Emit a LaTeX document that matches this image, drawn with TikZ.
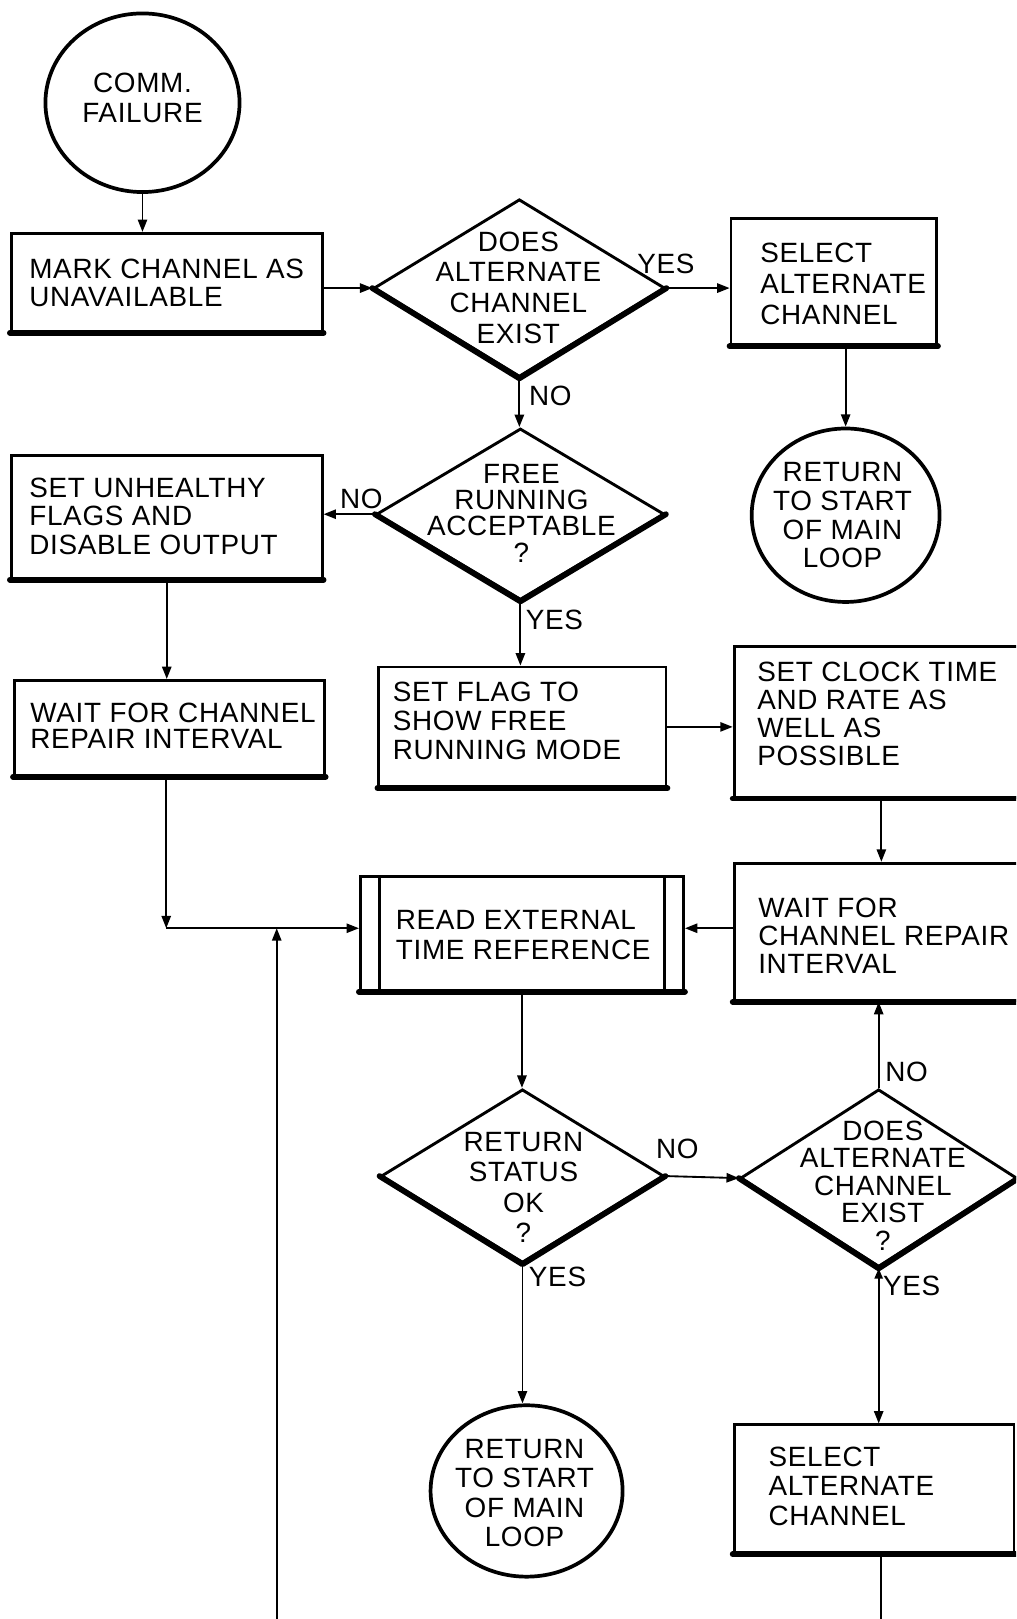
\documentclass[tikz,border=0pt]{standalone}
\usepackage{fontspec}
\setmainfont[LetterSpace=2.5]{Liberation Sans}
\usetikzlibrary{shapes.geometric,arrows.meta}

\begin{document}
\begin{tikzpicture}[x=0.5pt,y=-0.5pt,
  outline/.style={draw, line width=1.4pt, inner sep=0pt},
  box/.style={outline, rectangle},
  decision/.style={outline, diamond},
  terminal/.style={draw, line width=1.8pt, inner sep=0pt, ellipse},
  heavy/.style={line width=2.8pt, line cap=round, line join=round},
  lbl/.style={inner sep=0pt, font=\fontsize{13.5}{14}\selectfont},
  txt/.style={inner sep=0pt, align=left, anchor=west, font=\fontsize{13.5}{#1}\selectfont},
  ctxt/.style={inner sep=0pt, align=center, font=\fontsize{13.5}{#1}\selectfont},
  flow/.style={line width=0.9pt, -{Triangle[length=6pt,width=4.5pt]}},
  wire/.style={line width=0.9pt}
]
\useasboundingbox (0,0) rectangle (984,1568);
\fill[white] (0,0) rectangle (984,1568);
\clip (0,0) rectangle (984,1568);

% ---- terminals
\node[terminal, minimum width=94pt, minimum height=86.5pt] (comm) at (138,99.5) {};
\node[ctxt=14.3] (commT) at (138,95) {COMM.\\FAILURE};

\node[terminal, minimum width=91pt, minimum height=84pt] (ret1) at (819,499) {};
\node[ctxt=13.9] (ret1T) at (816,499) {RETURN\\TO START\\OF MAIN\\LOOP};

\node[terminal, minimum width=93pt, minimum height=83pt] (ret2) at (510,1444) {};
\node[ctxt=14.3] (ret2T) at (508,1446) {RETURN\\TO START\\OF MAIN\\LOOP};

% ---- process boxes
\node[box, minimum width=150.5pt, minimum height=47.5pt] (mark) at (161.5,273.5) {};
\node[txt=13.5] (markT) at (28,274) {MARK CHANNEL AS\\UNAVAILABLE};

\node[box, minimum width=99.5pt, minimum height=61pt] (selA) at (807.5,273) {};
\node[txt=14.8] (selAT) at (736,275) {SELECT\\ALTERNATE\\CHANNEL};

\node[box, minimum width=150.5pt, minimum height=59.5pt] (unh) at (161.5,500.5) {};
\node[txt=13.65] (unhT) at (28,500) {SET UNHEALTHY\\FLAGS AND\\DISABLE OUTPUT};

\node[box, minimum width=150pt, minimum height=46pt] (waitL) at (164,705) {};
\node[txt=12.6] (waitLT) at (29,703) {WAIT FOR CHANNEL\\REPAIR INTERVAL};

\node[box, minimum width=139pt, minimum height=58pt] (flag) at (506,704) {};
\node[txt=14] (flagT) at (380,698.5) {SET FLAG TO\\SHOW FREE\\RUNNING MODE};

\node[box, minimum width=150pt, minimum height=73pt] (clock) at (861,699) {};
\node[txt=13.6] (clockT) at (733,691.7) {SET CLOCK TIME\\AND RATE AS\\WELL AS\\POSSIBLE};

\node[box, minimum width=150pt, minimum height=66.5pt] (waitR) at (861,902.5) {};
\node[txt=13.65] (waitRT) at (734,906) {WAIT FOR\\CHANNEL REPAIR\\INTERVAL};

\node[box, minimum width=156.5pt, minimum height=55pt] (read) at (505.5,904) {};
\draw[line width=1.2pt] ([xshift=10pt]read.north west) -- ([xshift=10pt]read.south west);
\draw[line width=1.2pt] ([xshift=-10pt]read.north east) -- ([xshift=-10pt]read.south east);
\node[txt=14.5] (readT) at (383,905.5) {READ EXTERNAL\\TIME REFERENCE};

\node[box, minimum width=135.5pt, minimum height=62pt] (selB) at (846.5,1442) {};
\node[txt=14.25] (selBT) at (744,1439.5) {SELECT\\ALTERNATE\\CHANNEL};

% ---- decisions
\node[decision, minimum width=141pt, minimum height=86pt] (d1) at (503,279) {};
\node[ctxt=14.9] (d1T) at (502,278.5) {DOES\\ALTERNATE\\CHANNEL\\EXIST};

\node[decision, minimum width=139.5pt, minimum height=83pt] (d2) at (504,498) {};
\node[ctxt=12.75] (d2T) at (505,497) {FREE\\RUNNING\\ACCEPTABLE\\?};

\node[decision, minimum width=137pt, minimum height=84pt] (d3) at (506,1139) {};
\node[ctxt=14.8] (d3T) at (507,1150) {RETURN\\STATUS\\OK\\?};

\node[decision, minimum width=134pt, minimum height=86pt] (d4) at (851,1141) {};
\node[ctxt=13.3] (d4T) at (855,1148) {DOES\\ALTERNATE\\CHANNEL\\EXIST\\?};

% heavy lower edges
\foreach \b in {mark,selA,unh,waitL,flag,clock,waitR,read,selB}
  \draw[heavy] (\b.south west) -- (\b.south east);
\foreach \d in {d1,d2,d3,d4}
  \draw[heavy] (\d.west) -- (\d.south) -- (\d.east);

% ---- connectors
\coordinate (join) at (161,899);
\coordinate (loopin) at (268,1575);
\coordinate (exitB) at (853,1575);

\draw[flow] (comm.south) -- (comm.south |- mark.north);
\draw[flow] (mark.east |- d1.west) -- (d1.west);
\draw[flow] (d1.east) -- (d1.east -| selA.west);
\draw[flow] (ret1.north |- selA.south) -- (ret1.north);
\draw[flow] (d1.south) -- (d1.south |- d2.north);
\draw[flow] (d2.west) -- (d2.west -| unh.east);
\draw[flow] (d2.south) -- (d2.south |- flag.north);
\draw[flow] (unh.south) -- (unh.south |- waitL.north);
\draw[flow] (waitL.south -| join) -- (join);
\draw[flow] (join) -- (join -| read.west);
\draw[flow] (loopin) -- (loopin |- join);
\draw[flow] (flag.east) -- (flag.east -| clock.west);
\draw[flow] ([xshift=72pt]clock.south west) -- ([xshift=72pt]waitR.north west);
\draw[flow] (waitR.west |- join) -- (read.east |- join);
\draw[flow] (read.south) -- (read.south |- d3.north);
\draw[flow] (d3.east) -- (d4.west);
\draw[flow] (d4.north) -- (d4.north |- waitR.south);
\draw[flow] (d3.south) -- (d3.south |- ret2.north);
\draw[line width=0.9pt, {Triangle[length=5pt,width=4pt]}-{Triangle[length=6pt,width=4.5pt]}]
  (d4.south) -- (d4.south |- selB.north);
\draw[wire] (selB.south -| exitB) -- (exitB);

% ---- branch labels
\node[lbl] (yes1) at (645,256) {YES};
\node[lbl] (no1) at (533,383) {NO};
\node[lbl] (no2) at (350,483) {NO};
\node[lbl] (yes2) at (537,600) {YES};
\node[lbl] (no3) at (656,1113) {NO};
\node[lbl] (no4) at (878,1038) {NO};
\node[lbl] (yes3) at (540,1237) {YES};
\node[lbl] (yes4) at (883,1245) {YES};
\end{tikzpicture}
\end{document}
